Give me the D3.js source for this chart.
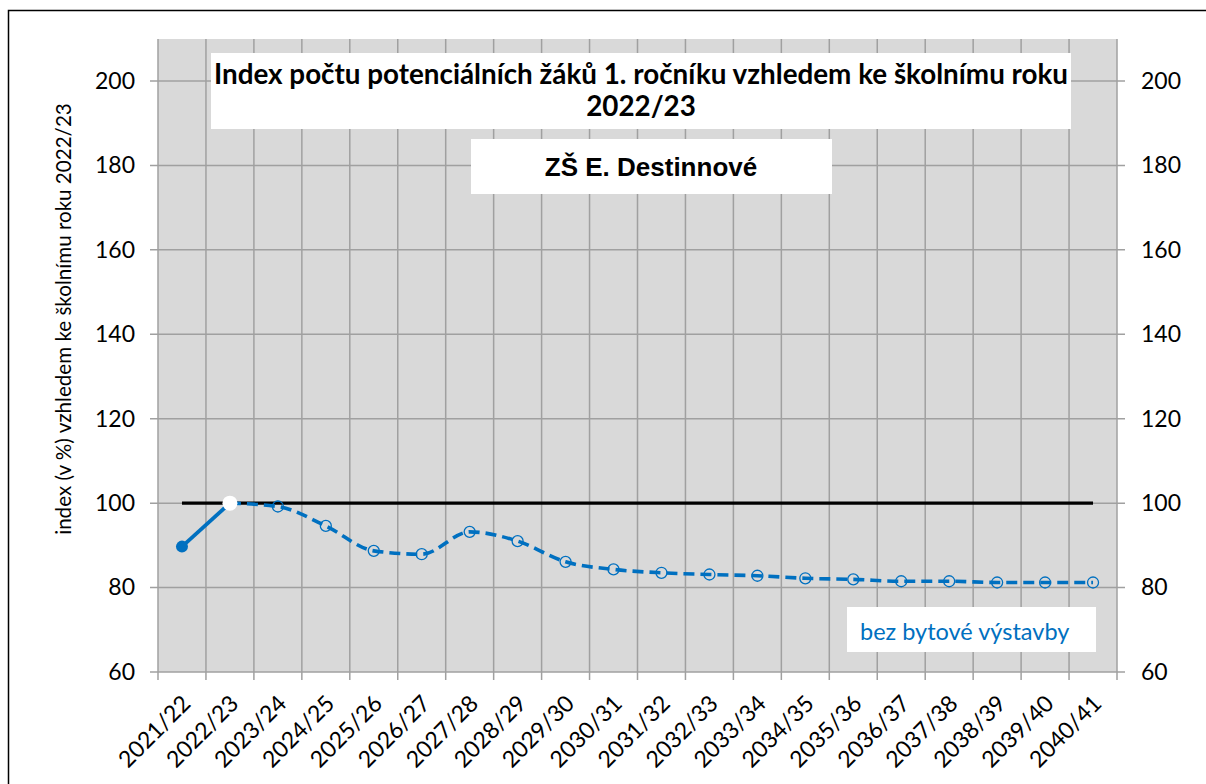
<!DOCTYPE html>
<html>
<head>
<meta charset="utf-8">
<script src="https://cdn.jsdelivr.net/npm/d3@7"></script>
<style>
  body { margin: 0; background: #fff; }
  text { font-family: Lato, "Open Sans", sans-serif; }
</style>
</head>
<body>
<script>
var years = ["2021/22","2022/23","2023/24","2024/25","2025/26","2026/27","2027/28","2028/29","2029/30","2030/31",
             "2031/32","2032/33","2033/34","2034/35","2035/36","2036/37","2037/38","2038/39","2039/40","2040/41"];
var actual = [89.7, 100];
var forecast = [100, 99.2, 94.6, 88.7, 87.9, 93.2, 91.0, 86.1, 84.3, 83.5, 83.1, 82.8, 82.2, 81.95, 81.5, 81.5, 81.2, 81.2, 81.2];
var baseline = 100;
var yTicks = [60, 80, 100, 120, 140, 160, 180, 200];

var blue = "#0070c0";
var svg = d3.select("body").append("svg")
    .attr("width", 1206)
    .attr("height", 784);

svg.append("rect")
    .attr("x", 8.5).attr("y", 10.5)
    .attr("width", 1210).attr("height", 800)
    .attr("fill", "#fff").attr("stroke", "#000").attr("stroke-width", 1.5);

var plotL = 158, plotR = 1117, plotT = 39, plotB = 672;

var x = d3.scaleBand().domain(years).range([plotL, plotR]);
var y = d3.scaleLinear().domain([60, 200]).range([plotB, 81]);

svg.append("rect")
    .attr("x", plotL).attr("y", plotT)
    .attr("width", plotR - plotL).attr("height", plotB - plotT)
    .attr("fill", "#d9d9d9");

// vertical gridlines at category boundaries
var bounds = years.map(function(d) { return x(d); }).concat([plotR]);
svg.append("g").selectAll("line")
    .data(bounds)
    .enter()
  .append("line")
    .attr("x1", function(d) { return d; })
    .attr("x2", function(d) { return d; })
    .attr("y1", plotT).attr("y2", plotB + 8)
    .attr("stroke", "#a0a0a0").attr("stroke-width", 1.5);

// horizontal gridlines
svg.append("g").selectAll("line")
    .data(yTicks)
    .enter()
  .append("line")
    .attr("x1", plotL - 8).attr("x2", plotR + 8)
    .attr("y1", function(d) { return y(d); })
    .attr("y2", function(d) { return y(d); })
    .attr("stroke", "#a0a0a0").attr("stroke-width", 1.5);

var leftAxis = svg.append("g")
    .attr("transform", "translate(" + plotL + ",0)")
    .call(d3.axisLeft(y).tickValues(yTicks).tickSize(0).tickPadding(23));
var rightAxis = svg.append("g")
    .attr("transform", "translate(" + plotR + ",0)")
    .call(d3.axisRight(y).tickValues(yTicks).tickSize(0).tickPadding(24));
[leftAxis, rightAxis].forEach(function(a) {
  a.select(".domain").remove();
  a.selectAll("text").attr("font-size", 23).attr("fill", "#000")
    .style("font-family", "Lato, sans-serif");
});

var xAxis = svg.append("g")
    .attr("transform", "translate(0," + plotB + ")")
    .call(d3.axisBottom(x).tickSize(0).tickPadding(0));
xAxis.select(".domain").remove();
xAxis.selectAll("text")
    .attr("font-size", 23).attr("fill", "#000")
    .style("font-family", "Lato, sans-serif")
    .attr("text-anchor", "end")
    .attr("dy", 0).attr("y", 0)
    .attr("transform", "translate(10,33) rotate(-45)");

// 100 reference line
svg.append("line")
    .attr("x1", x(years[0]) + x.bandwidth() / 2)
    .attr("x2", x(years[years.length - 1]) + x.bandwidth() / 2)
    .attr("y1", y(baseline)).attr("y2", y(baseline))
    .attr("stroke", "#000").attr("stroke-width", 3.2);

var cx = function(i) { return x(years[i]) + x.bandwidth() / 2; };

// forecast dashed line
var fData = forecast.map(function(v, i) { return [cx(i + 1), y(v)]; });
svg.append("path")
    .attr("d", d3.line().curve(d3.curveMonotoneX)(fData))
    .attr("fill", "none").attr("stroke", blue)
    .attr("stroke-width", 3.6).attr("stroke-dasharray", "11,6");

svg.append("g").selectAll("circle")
    .data(forecast.slice(1))
    .enter()
  .append("circle")
    .attr("cx", function(d, i) { return cx(i + 2); })
    .attr("cy", function(d) { return y(d); })
    .attr("r", 5.5)
    .attr("fill", "none").attr("stroke", blue).attr("stroke-width", 1.3);

// actual solid line
var aData = actual.map(function(v, i) { return [cx(i), y(v)]; });
svg.append("path")
    .attr("d", d3.line()(aData))
    .attr("fill", "none").attr("stroke", blue).attr("stroke-width", 3.8);

svg.append("circle")
    .attr("cx", cx(0)).attr("cy", y(actual[0]))
    .attr("r", 6).attr("fill", blue);
svg.append("circle")
    .attr("cx", cx(1)).attr("cy", y(actual[1]))
    .attr("r", 7.5).attr("fill", "#fff");

// title box
svg.append("rect")
    .attr("x", 211).attr("y", 53).attr("width", 860).attr("height", 76)
    .attr("fill", "#fff");
svg.append("text")
    .attr("x", 641).attr("y", 84)
    .attr("text-anchor", "middle").attr("font-size", 27.8).attr("font-weight", "bold")
    .text("Index počtu potenciálních žáků 1. ročníku vzhledem ke školnímu roku");
svg.append("text")
    .attr("x", 641).attr("y", 116)
    .attr("text-anchor", "middle").attr("font-size", 27.8).attr("font-weight", "bold")
    .text("2022/23");

svg.append("rect")
    .attr("x", 471).attr("y", 139).attr("width", 361).attr("height", 55)
    .attr("fill", "#fff");
svg.append("text")
    .attr("x", 651).attr("y", 176)
    .attr("text-anchor", "middle").attr("font-size", 26).attr("font-weight", "bold")
    .style("font-family", "'Liberation Sans', Arial, sans-serif")
    .text("ZŠ E. Destinnové");

// legend box
svg.append("rect")
    .attr("x", 847).attr("y", 607).attr("width", 249).attr("height", 45)
    .attr("fill", "#fff");
svg.append("text")
    .attr("x", 860).attr("y", 640)
    .attr("font-size", 23.5).attr("fill", blue)
    .text("bez bytové výstavby");

// y axis title
svg.append("text")
    .attr("transform", "translate(71,319) rotate(-90)")
    .attr("text-anchor", "middle").attr("font-size", 20.6)
    .text("index (v %) vzhledem  ke školnímu roku 2022/23");
</script>
</body>
</html>
